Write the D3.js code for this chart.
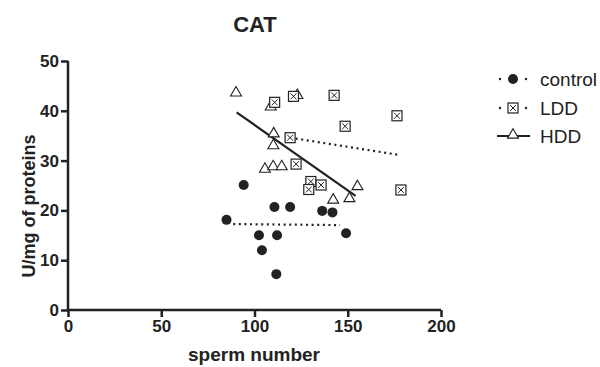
<!DOCTYPE html>
<html>
<head>
<meta charset="utf-8">
<script src="https://cdn.jsdelivr.net/npm/d3@7"></script>
<style>
  body { margin: 0; background: #fff; }
  text { font-family: "Liberation Sans", Arial, sans-serif; fill: #222; }
</style>
</head>
<body>
<div id="chart"></div>
<script>
// sperm number vs CAT activity, three groups
const controlX = [85.0, 94.2, 110.7, 119.1, 136.3, 141.8, 102.4, 112.1, 104.0, 111.7, 149.1];
const controlY = [18.1, 25.1, 20.7, 20.7, 19.9, 19.6, 15.0, 15.0, 12.0, 7.2, 15.4];

const lddX = [110.8, 120.9, 142.7, 176.4, 148.6, 119.1, 122.3, 130.2, 129.1, 135.7, 178.5];
const lddY = [41.7, 42.9, 43.1, 39.0, 36.9, 34.6, 29.3, 25.8, 24.2, 25.1, 24.1];

const hddX = [90.1, 108.7, 123.0, 110.3, 110.1, 105.6, 110.0, 114.6, 155.2, 142.2, 150.9];
const hddY = [43.6, 40.8, 43.1, 35.4, 33.0, 28.3, 28.8, 28.8, 24.8, 22.1, 22.4];

// fitted lines (start, end)
const fitControl = [[88.6, 17.25], [145.9, 17.05]];
const fitLdd = [[119.1, 34.6], [178.2, 31.1]];
const fitHdd = [[90.4, 39.7], [154.2, 22.9]];

const xTicks = [0, 50, 100, 150, 200];
const yTicks = [0, 10, 20, 30, 40, 50];
const groups = ["control", "LDD", "HDD"];

const width = 600;
const height = 367;
const ink = "#222";

const x = d3.scaleLinear().domain([0, 200]).range([68, 441]);
const y = d3.scaleLinear().domain([0, 50]).range([310, 61]);

const svg = d3.select("#chart")
  .append("svg")
  .attr("width", width)
  .attr("height", height);

// title
svg.append("text")
  .attr("x", 255).attr("y", 32)
  .attr("text-anchor", "middle")
  .attr("font-size", 22).attr("font-weight", "bold")
  .text("CAT");

// axes
const xAxis = svg.append("g")
  .attr("transform", `translate(0,${y(0)})`)
  .call(d3.axisBottom(x).tickValues(xTicks).tickSize(7).tickPadding(3));
const yAxis = svg.append("g")
  .attr("transform", `translate(${x(0)},0)`)
  .call(d3.axisLeft(y).tickValues(yTicks).tickSize(7).tickPadding(2));

[xAxis, yAxis].forEach(g => {
  g.select(".domain").attr("stroke", ink).attr("stroke-width", 2.5);
  g.selectAll(".tick line").attr("stroke", ink).attr("stroke-width", 2.5);
  g.selectAll(".tick text")
    .attr("font-size", 17).attr("font-weight", "bold")
    .attr("font-family", "Liberation Sans, Arial, sans-serif")
    .attr("fill", ink);
});
xAxis.selectAll(".domain").attr("d", `M${x(0)},0H${x(200)}`);
yAxis.selectAll(".domain").attr("d", `M0,${y(0)}V${y(50)}`);

// axis labels
svg.append("text")
  .attr("x", 254).attr("y", 361)
  .attr("text-anchor", "middle")
  .attr("font-size", 19).attr("font-weight", "bold")
  .text("sperm number");

svg.append("text")
  .attr("transform", `translate(35,206) rotate(-90)`)
  .attr("text-anchor", "middle")
  .attr("font-size", 18).attr("font-weight", "bold")
  .text("U/mg of proteins");

// fit lines
const line = d3.line().x(d => x(d[0])).y(d => y(d[1]));
svg.append("path").datum(fitControl).attr("d", line)
  .attr("fill", "none").attr("stroke", ink).attr("stroke-width", 2.2)
  .attr("stroke-dasharray", "2,3.6");
svg.append("path").datum(fitLdd).attr("d", line)
  .attr("fill", "none").attr("stroke", ink).attr("stroke-width", 2.2)
  .attr("stroke-dasharray", "2,3.6");
svg.append("path").datum(fitHdd).attr("d", line)
  .attr("fill", "none").attr("stroke", ink).attr("stroke-width", 2.2);

// markers
function drawCircle(g, cx, cy) {
  g.append("circle").attr("cx", cx).attr("cy", cy).attr("r", 5).attr("fill", ink);
}
function drawSquare(g, cx, cy) {
  const s = 5;
  g.append("rect").attr("x", cx - s).attr("y", cy - s)
    .attr("width", 2 * s).attr("height", 2 * s)
    .attr("fill", "#fff").attr("stroke", ink).attr("stroke-width", 1.2);
  g.append("path")
    .attr("d", `M${cx - s + 2},${cy - s + 2}L${cx + s - 2},${cy + s - 2}M${cx + s - 2},${cy - s + 2}L${cx - s + 2},${cy + s - 2}`)
    .attr("stroke", ink).attr("stroke-width", 1);
}
const triPath = d3.symbol(d3.symbolTriangle, 52)();
function drawTriangle(g, cx, cy) {
  g.append("path").attr("d", triPath)
    .attr("transform", `translate(${cx},${cy})`)
    .attr("fill", "#fff").attr("stroke", ink).attr("stroke-width", 1.1);
}

const marks = svg.append("g");
hddX.forEach((v, i) => drawTriangle(marks, x(v), y(hddY[i])));
lddX.forEach((v, i) => drawSquare(marks, x(v), y(lddY[i])));
controlX.forEach((v, i) => drawCircle(marks, x(v), y(controlY[i])));

// legend
const legendY = [79, 108, 136];
const legend = svg.append("g");
groups.forEach((name, i) => {
  const ly = legendY[i];
  if (i < 2) {
    legend.append("circle").attr("cx", 500).attr("cy", ly).attr("r", 1.2).attr("fill", ink);
    legend.append("circle").attr("cx", 526).attr("cy", ly).attr("r", 1.2).attr("fill", ink);
  } else {
    legend.append("line").attr("x1", 497).attr("x2", 530).attr("y1", ly).attr("y2", ly)
      .attr("stroke", ink).attr("stroke-width", 2);
  }
  if (i === 0) drawCircle(legend, 513, ly);
  if (i === 1) drawSquare(legend, 513, ly);
  if (i === 2) drawTriangle(legend, 513, ly - 1);
  legend.append("text")
    .attr("x", 540).attr("y", ly + 6.5)
    .attr("font-size", 19)
    .text(name);
});
</script>
</body>
</html>
